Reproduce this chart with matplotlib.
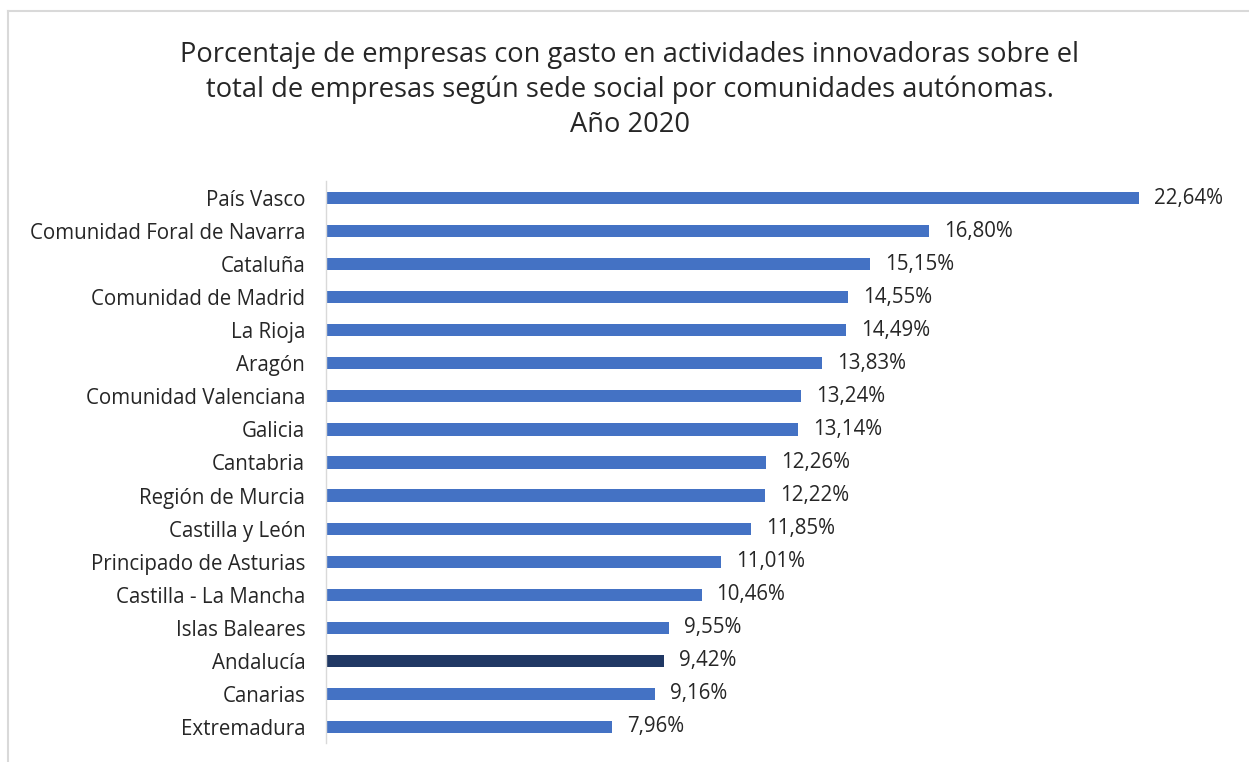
import matplotlib.pyplot as plt
from matplotlib.lines import Line2D

plt.rcParams['font.family'] = ['Open Sans', 'DejaVu Sans']

regiones = [
    "País Vasco", "Comunidad Foral de Navarra", "Cataluña", "Comunidad de Madrid",
    "La Rioja", "Aragón", "Comunidad Valenciana", "Galicia", "Cantabria",
    "Región de Murcia", "Castilla y León", "Principado de Asturias",
    "Castilla - La Mancha", "Islas Baleares", "Andalucía", "Canarias", "Extremadura",
]
porcentajes = [22.64, 16.80, 15.15, 14.55, 14.49, 13.83, 13.24, 13.14, 12.26,
               12.22, 11.85, 11.01, 10.46, 9.55, 9.42, 9.16, 7.96]
destacada = "Andalucía"

W, H = 1249, 762
fig = plt.figure(figsize=(W / 100, H / 100), dpi=100)

# axes: x=0 at px 326, 35.9 px per unit; rows from y 181.5 to 743.5
left, right = 326, 326 + 25 * 35.9
top, bottom = 181.5, 743.5
ax = fig.add_axes([left / W, 1 - bottom / H, (right - left) / W, (bottom - top) / H])

colores = ["#203864" if r == destacada else "#4472C4" for r in regiones]
pos = list(range(len(regiones)))
ax.barh(pos, porcentajes, height=0.37, color=colores)
ax.set_ylim(len(regiones) - 0.5, -0.5)
ax.set_xlim(0, 25)
ax.set_yticks(pos)
ax.set_yticklabels(regiones, fontsize=14.8, color="#262626")
ax.tick_params(axis="y", length=0, pad=15)
ax.set_xticks([])
for s in ["top", "right", "bottom"]:
    ax.spines[s].set_visible(False)
ax.spines["left"].set_color("#D9D9D9")
ax.spines["left"].set_linewidth(1)

for y, v in zip(pos, porcentajes):
    ax.text(v + 0.42, y, f"{v:.2f}%".replace(".", ","), va="center", ha="left",
            fontsize=14.8, color="#262626")

fig.text(630 / W, 1 - 90 / H,
         "Porcentaje de empresas con gasto en actividades innovadoras sobre el\n"
         "total de empresas según sede social por comunidades autónomas.\nAño 2020",
         ha="center", va="center", fontsize=19.6, color="#262626", linespacing=1.33)

# light frame (top and left edges)
fig.add_artist(Line2D([8 / W, 1], [1 - 11 / H, 1 - 11 / H], color="#D9D9D9", lw=1.5,
                      transform=fig.transFigure))
fig.add_artist(Line2D([8 / W, 8 / W], [0, 1 - 11 / H], color="#D9D9D9", lw=1.5,
                      transform=fig.transFigure))

fig.savefig("out.png", dpi=100, facecolor="white")
